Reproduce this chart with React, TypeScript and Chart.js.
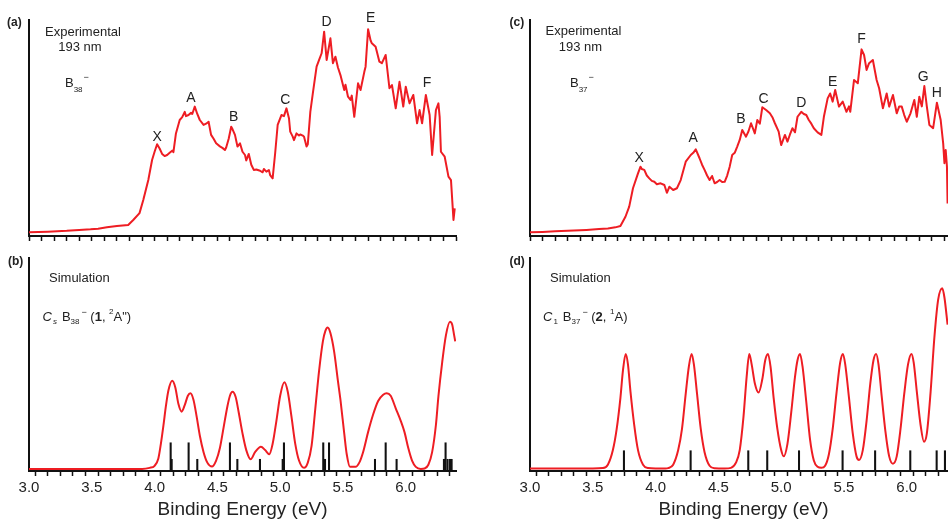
import { useEffect, useRef } from 'react';
import { Chart, registerables } from 'chart.js';

Chart.register(...registerables);

const FONT = '"Liberation Sans", Arial, Helvetica, sans-serif';
const RED = '#ee1d23';
const INK = '#222';

// ---------- (a) experimental B38- ----------
const expAEnergy = [3.00, 3.15, 3.30, 3.40, 3.49, 3.55, 3.62, 3.70, 3.79, 3.83, 3.88, 3.91, 3.95, 3.98, 4.00, 4.02, 4.04, 4.06, 4.08, 4.10, 4.12, 4.14, 4.15, 4.17, 4.20, 4.22, 4.24, 4.25, 4.27, 4.29, 4.30, 4.32, 4.34, 4.36, 4.39, 4.41, 4.43, 4.45, 4.47, 4.49, 4.52, 4.54, 4.56, 4.57, 4.59, 4.61, 4.62, 4.64, 4.66, 4.68, 4.70, 4.72, 4.73, 4.75, 4.77, 4.79, 4.81, 4.84, 4.86, 4.87, 4.89, 4.91, 4.92, 4.94, 4.96, 4.98, 5.01, 5.03, 5.05, 5.07, 5.08, 5.10, 5.11, 5.13, 5.15, 5.16, 5.18, 5.19, 5.21, 5.22, 5.24, 5.26, 5.29, 5.31, 5.33, 5.35, 5.36, 5.37, 5.40, 5.42, 5.44, 5.46, 5.48, 5.51, 5.52, 5.54, 5.56, 5.57, 5.59, 5.62, 5.64, 5.67, 5.68, 5.70, 5.72, 5.73, 5.76, 5.79, 5.81, 5.84, 5.87, 5.89, 5.92, 5.95, 5.98, 6.00, 6.03, 6.06, 6.09, 6.11, 6.13, 6.16, 6.19, 6.21, 6.24, 6.26, 6.27, 6.28, 6.31, 6.34, 6.36, 6.38, 6.39];
const expAIntensity = [1.7, 2.0, 2.4, 2.8, 3.1, 3.4, 4.0, 4.6, 5.1, 7.4, 10.6, 16.7, 25.9, 35.2, 39.0, 42.5, 40.5, 38.0, 37.0, 37.5, 38.5, 39.5, 38.8, 47.5, 53.7, 55.0, 57.5, 55.5, 56.0, 57.0, 56.5, 59.9, 56.5, 53.7, 51.4, 52.0, 52.9, 46.8, 45.0, 42.9, 41.5, 40.8, 39.8, 41.0, 45.0, 50.6, 49.5, 46.8, 41.4, 42.9, 39.0, 37.5, 35.0, 38.0, 33.0, 30.6, 30.8, 30.2, 29.5, 31.0, 29.8, 30.5, 28.2, 26.7, 38.3, 51.4, 56.0, 55.5, 59.1, 54.5, 48.3, 46.0, 44.4, 47.5, 46.5, 47.0, 46.5, 46.0, 41.4, 42.5, 57.5, 66.0, 78.4, 81.5, 84.6, 94.6, 88.0, 81.5, 91.5, 80.0, 83.0, 78.0, 74.5, 67.6, 70.0, 64.5, 63.0, 65.0, 55.2, 70.7, 67.6, 76.0, 78.4, 95.7, 90.5, 89.2, 87.6, 80.7, 80.0, 83.8, 68.4, 69.9, 59.1, 71.4, 59.9, 69.1, 61.4, 65.3, 52.2, 58.3, 52.2, 65.3, 56.0, 37.5, 58.3, 61.4, 55.0, 39.0, 36.7, 27.5, 25.9, 7.4, 12.8];
const peakLabelsA = ['X', 'A', 'B', 'C', 'D', 'E', 'F'];
const peakLabelEnergyA = [4.02, 4.29, 4.63, 5.04, 5.37, 5.72, 6.17];
const peakLabelHeightA = [45.6, 63.7, 55.2, 63.0, 99.2, 100.8, 70.7];

// ---------- (c) experimental B37- ----------
const expCEnergy = [3.00, 3.10, 3.20, 3.35, 3.45, 3.55, 3.62, 3.68, 3.72, 3.76, 3.79, 3.82, 3.86, 3.88, 3.89, 3.91, 3.93, 3.95, 3.97, 3.99, 4.01, 4.04, 4.07, 4.09, 4.11, 4.14, 4.17, 4.20, 4.24, 4.28, 4.30, 4.32, 4.35, 4.37, 4.39, 4.41, 4.43, 4.45, 4.47, 4.49, 4.51, 4.53, 4.55, 4.57, 4.59, 4.61, 4.63, 4.65, 4.67, 4.69, 4.72, 4.74, 4.76, 4.79, 4.81, 4.83, 4.85, 4.88, 4.91, 4.93, 4.95, 4.98, 5.00, 5.03, 5.05, 5.07, 5.09, 5.11, 5.13, 5.16, 5.18, 5.20, 5.22, 5.24, 5.26, 5.29, 5.32, 5.34, 5.37, 5.39, 5.41, 5.43, 5.46, 5.49, 5.52, 5.54, 5.55, 5.58, 5.61, 5.64, 5.66, 5.68, 5.70, 5.73, 5.76, 5.78, 5.81, 5.84, 5.86, 5.89, 5.92, 5.94, 5.96, 5.98, 6.00, 6.03, 6.06, 6.08, 6.10, 6.12, 6.14, 6.16, 6.18, 6.21, 6.24, 6.27, 6.29, 6.30, 6.31, 6.32, 6.325];
const expCIntensity = [1.7, 1.9, 2.2, 2.5, 2.8, 3.2, 3.5, 4.0, 4.6, 8.9, 13.6, 22.1, 29.0, 32.1, 31.0, 30.6, 28.0, 26.7, 25.5, 25.1, 24.0, 24.4, 23.6, 20.0, 22.8, 21.3, 22.1, 25.9, 34.4, 37.5, 38.5, 40.1, 36.0, 33.0, 30.6, 28.0, 25.9, 27.8, 24.4, 25.0, 25.9, 25.0, 25.1, 28.0, 32.1, 37.5, 38.5, 41.4, 44.5, 49.1, 46.0, 48.5, 52.2, 47.5, 53.7, 52.0, 59.6, 58.3, 56.8, 55.0, 52.2, 48.3, 42.1, 46.8, 43.7, 47.0, 49.9, 48.0, 55.2, 57.5, 56.5, 56.0, 53.7, 52.0, 49.9, 48.0, 46.8, 55.2, 63.7, 66.0, 62.2, 67.6, 59.9, 62.2, 57.5, 60.0, 57.5, 72.2, 70.7, 86.4, 83.8, 76.9, 80.0, 81.5, 72.2, 68.4, 59.1, 66.0, 59.9, 65.3, 56.8, 60.0, 59.9, 56.0, 52.9, 56.8, 63.0, 55.2, 64.5, 60.0, 69.4, 59.9, 51.4, 49.9, 61.7, 53.7, 42.9, 33.7, 39.8, 32.1, 15.0];
const peakLabelsC = ['X', 'A', 'B', 'C', 'D', 'E', 'F', 'G', 'H'];
const peakLabelEnergyC = [3.87, 4.30, 4.68, 4.86, 5.16, 5.41, 5.64, 6.13, 6.24];
const peakLabelHeightC = [36.0, 45.2, 54.2, 63.4, 61.4, 71.4, 91.1, 73.5, 66.1];

// ---------- (b) simulation Cs B38- ----------
const simBEnergy = [3.00, 3.50, 3.90, 3.96, 4.00, 4.03, 4.05, 4.07, 4.09, 4.11, 4.14, 4.165, 4.19, 4.215, 4.24, 4.265, 4.285, 4.31, 4.335, 4.36, 4.39, 4.42, 4.457, 4.49, 4.52, 4.55, 4.58, 4.60, 4.62, 4.645, 4.67, 4.70, 4.73, 4.765, 4.80, 4.847, 4.88, 4.913, 4.94, 4.97, 5.00, 5.033, 5.06, 5.09, 5.12, 5.15, 5.19, 5.22, 5.25, 5.28, 5.31, 5.34, 5.36, 5.378, 5.40, 5.43, 5.46, 5.48, 5.51, 5.53, 5.556, 5.60, 5.63, 5.66, 5.70, 5.74, 5.78, 5.82, 5.848, 5.88, 5.92, 5.96, 5.99, 6.02, 6.05, 6.08, 6.12, 6.15, 6.18, 6.21, 6.24, 6.26, 6.29, 6.32, 6.352, 6.37, 6.385, 6.394];
const simBIntensity = [1.0, 1.0, 1.0, 1.5, 2.5, 6.0, 13.0, 21.6, 31.0, 38.5, 43.2, 40.0, 32.0, 28.4, 31.5, 36.0, 37.2, 34.0, 26.0, 17.0, 9.0, 4.0, 2.1, 5.0, 11.0, 21.0, 31.0, 36.0, 37.9, 35.5, 28.0, 18.0, 10.0, 5.6, 9.0, 11.6, 10.0, 8.0, 13.0, 24.0, 36.0, 42.4, 38.0, 26.0, 13.0, 5.0, 1.5, 4.0, 12.0, 30.0, 48.0, 62.0, 67.0, 68.6, 66.0, 57.0, 43.0, 34.0, 18.0, 8.0, 2.0, 2.0, 4.0, 9.0, 18.6, 27.0, 33.5, 36.5, 37.2, 36.0, 30.0, 24.0, 18.6, 11.0, 5.0, 2.0, 1.0, 1.2, 3.0, 9.0, 22.0, 35.7, 52.0, 65.0, 71.4, 70.0, 65.0, 62.0];
const stickBEnergy = [4.128, 4.136, 4.271, 4.340, 4.600, 4.659, 4.839, 5.020, 5.030, 5.343, 5.357, 5.389, 5.755, 5.840, 5.927, 6.304, 6.317, 6.333, 6.352, 6.365];
const stickBHeight = [13.5, 5.6, 13.5, 5.6, 13.5, 5.6, 5.6, 5.6, 13.5, 13.5, 5.6, 13.5, 5.6, 13.5, 5.6, 5.6, 13.5, 5.6, 5.6, 5.6];

// ---------- (d) simulation C1 B37- ----------
const simDEnergy = [3.00, 3.50, 3.58, 3.62, 3.66, 3.69, 3.72, 3.74, 3.762, 3.78, 3.80, 3.83, 3.86, 3.90, 3.94, 4.00, 4.08, 4.10, 4.14, 4.18, 4.21, 4.24, 4.265, 4.287, 4.305, 4.33, 4.36, 4.39, 4.43, 4.47, 4.55, 4.60, 4.64, 4.67, 4.70, 4.725, 4.746, 4.765, 4.79, 4.82, 4.85, 4.873, 4.895, 4.915, 4.94, 4.97, 5.00, 5.02, 5.05, 5.08, 5.11, 5.13, 5.15, 5.17, 5.20, 5.23, 5.26, 5.29, 5.32, 5.35, 5.38, 5.41, 5.44, 5.47, 5.492, 5.51, 5.54, 5.57, 5.60, 5.62, 5.65, 5.68, 5.71, 5.735, 5.756, 5.775, 5.80, 5.83, 5.86, 5.89, 5.92, 5.95, 5.98, 6.01, 6.037, 6.055, 6.08, 6.11, 6.137, 6.16, 6.19, 6.22, 6.25, 6.283, 6.30, 6.325];
const simDIntensity = [1.2, 1.2, 1.4, 3.0, 10.0, 20.0, 35.0, 48.0, 56.0, 51.0, 38.0, 22.0, 10.0, 3.0, 1.4, 1.2, 1.2, 1.4, 3.0, 10.0, 20.0, 37.0, 50.0, 56.0, 51.0, 37.0, 20.0, 9.0, 2.5, 1.3, 1.2, 1.5, 4.0, 10.0, 26.0, 45.0, 56.0, 51.0, 42.0, 37.5, 44.0, 53.0, 56.0, 50.0, 35.0, 20.0, 10.0, 7.0, 13.0, 28.0, 45.0, 53.0, 56.0, 50.0, 33.0, 15.0, 5.0, 2.0, 1.5, 2.5, 8.0, 20.0, 37.0, 52.0, 56.0, 51.0, 35.0, 18.0, 7.0, 5.3, 10.0, 24.0, 42.0, 53.0, 56.0, 51.0, 36.0, 19.0, 7.0, 3.5, 7.0, 20.0, 37.0, 51.0, 56.0, 52.0, 38.0, 22.0, 14.0, 18.0, 38.0, 64.0, 82.0, 87.4, 83.0, 70.0];
const stickDEnergy = [3.748, 4.279, 4.738, 4.889, 5.142, 5.489, 5.748, 6.028, 6.238, 6.304];
const stickDHeight = [9.7, 9.7, 9.7, 9.7, 9.7, 9.7, 9.7, 9.7, 9.7, 9.7];

const X_MIN = 3.0;
const X_MAX = 6.4;
const X_STEP = 0.1;
const AXIS_TITLE = 'Binding Energy (eV)';

type Seg = { t: string; size?: number; bold?: boolean; italic?: boolean; dy?: number; gap?: number };

function drawRich(ctx: CanvasRenderingContext2D, x: number, y: number, segs: Seg[]) {
  let cx = x;
  for (const s of segs) {
    const size = s.size ?? 13;
    ctx.font = `${s.italic ? 'italic ' : ''}${s.bold ? 'bold ' : ''}${size}px ${FONT}`;
    cx += s.gap ?? 0;
    ctx.fillText(s.t, cx, y + (s.dy ?? 0));
    cx += ctx.measureText(s.t).width;
  }
}

function pts(xs: number[], ys: number[]) {
  return xs.map((x, i) => ({ x, y: ys[i] }));
}

function expDataset(xs: number[], ys: number[]) {
  return { type: 'line', data: pts(xs, ys), borderColor: RED, borderWidth: 2, pointRadius: 0, tension: 0, fill: false, borderJoinStyle: 'round', order: 0 };
}
function simDataset(xs: number[], ys: number[]) {
  return { type: 'line', data: pts(xs, ys), borderColor: RED, borderWidth: 2, pointRadius: 0, cubicInterpolationMode: 'monotone', fill: false, order: 0 };
}
function stickDataset(xs: number[], ys: number[]) {
  return { type: 'bar', data: pts(xs, ys), backgroundColor: '#111', borderWidth: 0, barThickness: 1.4, order: 1 };
}

type PanelProps = {
  left: number; top: number; width: number; height: number;
  padTop: number; padLeft: number; padRight: number; xHeight: number;
  yMax: number; showLabels: boolean; datasets: any[];
  draw: (c: any) => void;
};

function Panel(p: PanelProps) {
  const ref = useRef<HTMLCanvasElement>(null);
  useEffect(() => {
    const chart = new Chart(ref.current!, {
      type: 'line',
      data: { datasets: p.datasets as any },
      options: {
        animation: false,
        responsive: false,
        maintainAspectRatio: false,
        events: [],
        layout: { padding: { top: p.padTop, left: p.padLeft, right: p.padRight, bottom: 0 } },
        plugins: { legend: { display: false }, tooltip: { enabled: false }, title: { display: false } },
        scales: {
          x: {
            type: 'linear', min: X_MIN, max: X_MAX, offset: false,
            border: { display: true, color: '#111', width: 2 },
            grid: { display: true, drawOnChartArea: false, drawTicks: true, tickLength: 5, tickWidth: 1.5, tickColor: '#111' },
            ticks: {
              display: p.showLabels, stepSize: X_STEP, includeBounds: false, autoSkip: false,
              maxRotation: 0, minRotation: 0, padding: 3, color: INK, font: { family: FONT, size: 15 },
              callback: (v: any) => {
                const n = Number(v);
                return Math.abs(n * 2 - Math.round(n * 2)) < 1e-6 ? n.toFixed(1) : '';
              },
            },
            title: { display: p.showLabels, text: AXIS_TITLE, color: INK, font: { family: FONT, size: 19 }, padding: 0 },
            afterFit: (s: any) => { s.height = p.xHeight; },
          },
          y: {
            type: 'linear', min: 0, max: p.yMax, display: true,
            border: { display: true, color: '#111', width: 2 },
            grid: { display: false },
            ticks: { display: false },
            afterFit: (s: any) => { s.width = 0; },
          },
        },
      } as any,
      plugins: [{ id: 'annot', afterDraw: (c: any) => p.draw(c) }],
    });
    return () => chart.destroy();
  }, []);
  return (
    <canvas
      ref={ref}
      width={p.width}
      height={p.height}
      style={{ position: 'absolute', left: p.left, top: p.top, width: p.width, height: p.height }}
    />
  );
}

function peakLabels(c: any, labels: string[], es: number[], hs: number[]) {
  const ctx: CanvasRenderingContext2D = c.ctx;
  ctx.textAlign = 'center';
  ctx.font = `14px ${FONT}`;
  labels.forEach((l, i) => {
    ctx.fillText(l, c.scales.x.getPixelForValue(es[i]), c.scales.y.getPixelForValue(hs[i]));
  });
}

function drawA(c: any) {
  const ctx: CanvasRenderingContext2D = c.ctx;
  ctx.save();
  ctx.fillStyle = INK;
  ctx.textBaseline = 'middle';
  ctx.textAlign = 'left';
  ctx.font = `bold 12px ${FONT}`;
  ctx.fillText('(a)', 7, 23);
  ctx.font = `13px ${FONT}`;
  ctx.fillText('Experimental', 45, 32);
  ctx.textAlign = 'center';
  ctx.fillText('193 nm', 80, 47);
  ctx.textAlign = 'left';
  drawRich(ctx, 65, 83, [{ t: 'B', size: 13 }, { t: '38', size: 8, dy: 7 }, { t: '\u2212', size: 9, dy: -5, gap: 1 }]);
  peakLabels(c, peakLabelsA, peakLabelEnergyA, peakLabelHeightA);
  ctx.restore();
}

function drawC(c: any) {
  const ctx: CanvasRenderingContext2D = c.ctx;
  ctx.save();
  ctx.fillStyle = INK;
  ctx.textBaseline = 'middle';
  ctx.textAlign = 'left';
  ctx.font = `bold 12px ${FONT}`;
  ctx.fillText('(c)', 35.5, 23);
  ctx.font = `13px ${FONT}`;
  ctx.fillText('Experimental', 71.5, 31.5);
  ctx.textAlign = 'center';
  ctx.fillText('193 nm', 106.5, 47);
  ctx.textAlign = 'left';
  drawRich(ctx, 96, 83, [{ t: 'B', size: 13 }, { t: '37', size: 8, dy: 7 }, { t: '\u2212', size: 9, dy: -5, gap: 1 }]);
  peakLabels(c, peakLabelsC, peakLabelEnergyC, peakLabelHeightC);
  ctx.restore();
}

function drawB(c: any) {
  const ctx: CanvasRenderingContext2D = c.ctx;
  ctx.save();
  ctx.fillStyle = INK;
  ctx.textBaseline = 'middle';
  ctx.textAlign = 'left';
  ctx.font = `bold 12px ${FONT}`;
  ctx.fillText('(b)', 8, 12);
  ctx.font = `13px ${FONT}`;
  ctx.fillText('Simulation', 49, 28);
  drawRich(ctx, 42.5, 67, [
    { t: 'C', italic: true },
    { t: 's', size: 8, italic: true, dy: 5, gap: 1 },
    { t: 'B', gap: 5 },
    { t: '38', size: 8, dy: 5 },
    { t: '\u2212', size: 9, dy: -4, gap: 2 },
    { t: ' (' },
    { t: '1', bold: true },
    { t: ', ' },
    { t: '2', size: 8, dy: -5 },
    { t: 'A")' },
  ]);
  ctx.restore();
}

function drawD(c: any) {
  const ctx: CanvasRenderingContext2D = c.ctx;
  ctx.save();
  ctx.fillStyle = INK;
  ctx.textBaseline = 'middle';
  ctx.textAlign = 'left';
  ctx.font = `bold 12px ${FONT}`;
  ctx.fillText('(d)', 35.5, 12);
  ctx.font = `13px ${FONT}`;
  ctx.fillText('Simulation', 76, 28);
  drawRich(ctx, 69, 67, [
    { t: 'C', italic: true },
    { t: '1', size: 8, dy: 5, gap: 1 },
    { t: 'B', gap: 5 },
    { t: '37', size: 8, dy: 5 },
    { t: '\u2212', size: 9, dy: -4, gap: 2 },
    { t: ' (' },
    { t: '2', bold: true },
    { t: ', ' },
    { t: '1', size: 8, dy: -5 },
    { t: 'A)' },
  ]);
  ctx.restore();
}

export default function App() {
  Chart.defaults.font.family = FONT;
  return (
    <div style={{ position: 'fixed', left: 0, top: 0, width: 948, height: 521, overflow: 'hidden', background: '#fff' }}>
      <Panel left={0} top={0} width={474} height={250} padTop={20} padLeft={29} padRight={18} xHeight={14}
        yMax={100} showLabels={false} datasets={[expDataset(expAEnergy, expAIntensity)]} draw={drawA} />
      <Panel left={474} top={0} width={501} height={250} padTop={20} padLeft={56} padRight={18} xHeight={14}
        yMax={100} showLabels={false} datasets={[expDataset(expCEnergy, expCIntensity)]} draw={drawC} />
      <Panel left={0} top={250} width={474} height={271} padTop={8} padLeft={29} padRight={18} xHeight={50}
        yMax={101.9} showLabels={true}
        datasets={[simDataset(simBEnergy, simBIntensity), stickDataset(stickBEnergy, stickBHeight)]} draw={drawB} />
      <Panel left={474} top={250} width={501} height={271} padTop={8} padLeft={56} padRight={18} xHeight={50}
        yMax={101.9} showLabels={true}
        datasets={[simDataset(simDEnergy, simDIntensity), stickDataset(stickDEnergy, stickDHeight)]} draw={drawD} />
    </div>
  );
}
